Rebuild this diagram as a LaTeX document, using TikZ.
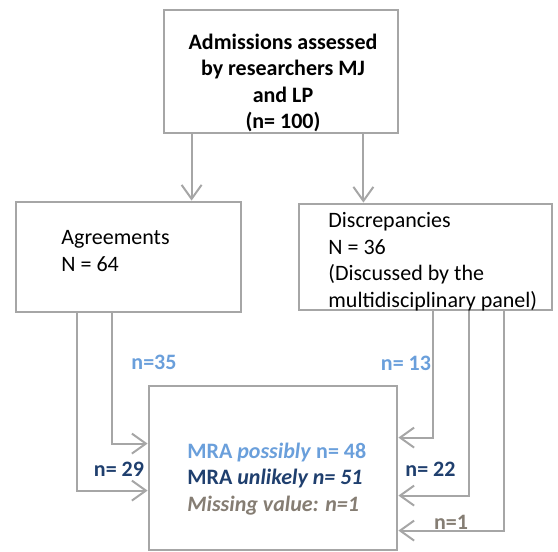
\documentclass[tikz,border=0pt]{standalone}
\usepackage{fontspec}
\setmainfont{Carlito}
\usetikzlibrary{arrows.meta}
\definecolor{linegray}{HTML}{A6A6A6}
\definecolor{lightblue}{HTML}{6A9FDB}
\definecolor{darknavy}{HTML}{1F3F6E}
\definecolor{warmgray}{HTML}{857D73}

\begin{document}
\begin{tikzpicture}[x=0.5pt,y=-0.5pt,
    box/.style={draw=linegray,line width=1.4pt,inner sep=0pt},
    flow/.style={draw=linegray,line width=1pt,-{Straight Barb[length=7pt,width=10pt]}},
    txt/.style={inner sep=0pt,align=left,font=\fontsize{11}{13.25}\selectfont},
    lbl/.style={inner sep=0pt,anchor=base,font=\fontsize{11}{13.25}\selectfont\bfseries}]
    \useasboundingbox (0,0) rectangle (558,552);

    % Define the boxes
    \node[box,minimum width=117pt,minimum height=61.5pt] (top) at (281,71.5) {};
    \node[box,minimum width=112.5pt,minimum height=55pt] (agree) at (128.5,257) {};
    \node[box,minimum width=126.5pt,minimum height=53pt] (disc) at (425.5,257) {};
    \node[box,minimum width=124pt,minimum height=82pt] (mra) at (273,468) {};

    % Texts in the boxes
    \node[txt,align=center,font=\fontsize{11}{13.25}\selectfont\bfseries] (topTxt) at (283,83)
      {Admissions assessed\\by researchers MJ\\and LP\\(n= 100)};
    \node[txt,anchor=west] (agreeTxt) at (61,251) {Agreements\\N = 64};
    \node[txt,anchor=west] (discTxt) at (328,261.5)
      {Discrepancies\\N = 36\\(Discussed by the\\multidisciplinary panel)};
    \node[txt,anchor=west] (mraTxt) at (187,479)
      {\textcolor{lightblue}{\bfseries MRA \textit{possibly} n= 48}\\
       \textcolor{darknavy}{\bfseries MRA \textit{unlikely n= 51}}\\
       \textcolor{warmgray}{\bfseries\itshape Missing value: n=1}};

    % Arrows
    \draw[flow] ([xshift=14.5pt]top.south west) -- ([xshift=14.5pt]top.south west |- agree.north);
    \draw[flow] ([xshift=-18pt]top.south east) -- ([xshift=-18pt]top.south east |- disc.north);

    \draw[flow] ([xshift=48.5pt]agree.south west) |- ([yshift=-29.5pt]mra.north west);
    \draw[flow] ([xshift=31pt]agree.south west) |- ([yshift=-53pt]mra.north west);
    \draw[flow] ([xshift=67.5pt]disc.south west) |- ([yshift=-26.5pt]mra.north east);
    \draw[flow] ([xshift=85.5pt]disc.south west) |- ([yshift=-55.5pt]mra.north east);
    \draw[flow] ([xshift=103pt]disc.south west) |- ([yshift=-73pt]mra.north east);

    % Label the arrows
    \node[lbl,text=lightblue] (n35) at (154,369) {n=35};
    \node[lbl,text=darknavy] (n29) at (119,476) {n= 29};
    \node[lbl,text=lightblue] (n13) at (406,370) {n= 13};
    \node[lbl,text=darknavy] (n22) at (430.5,476) {n= 22};
    \node[lbl,text=warmgray] (n1) at (451,529) {n=1};
\end{tikzpicture}
\end{document}
